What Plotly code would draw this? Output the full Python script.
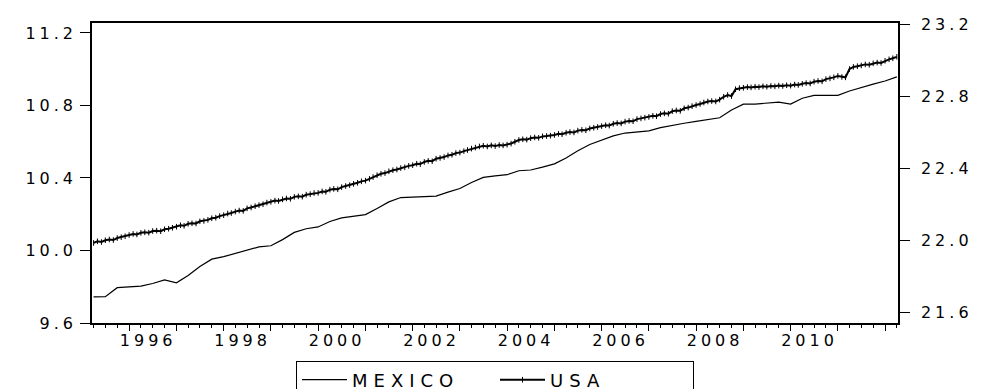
import plotly.graph_objects as go
import pandas as pd

# ---------------- data ----------------
mexico_dates = [
    "1995-04", "1995-07", "1995-10",
    "1996-01", "1996-04", "1996-07", "1996-10",
    "1997-01", "1997-04", "1997-07", "1997-10",
    "1998-01", "1998-04", "1998-07", "1998-10",
    "1999-01", "1999-04", "1999-07", "1999-10",
    "2000-01", "2000-04", "2000-07", "2000-10",
    "2001-01", "2001-04", "2001-07", "2001-10",
    "2002-01", "2002-04", "2002-07", "2002-10",
    "2003-01", "2003-04", "2003-07", "2003-10",
    "2004-01", "2004-04", "2004-07", "2004-10",
    "2005-01", "2005-04", "2005-07", "2005-10",
    "2006-01", "2006-04", "2006-07", "2006-10",
    "2007-01", "2007-04", "2007-07", "2007-10",
    "2008-01", "2008-04", "2008-07", "2008-10",
    "2009-01", "2009-04", "2009-07", "2009-10",
    "2010-01", "2010-04", "2010-07", "2010-10",
    "2011-01", "2011-04", "2011-07", "2011-10",
    "2012-01", "2012-04",
]
mexico_values = [
    9.744, 9.745, 9.795,
    9.797, 9.803, 9.818, 9.838,
    9.822, 9.862, 9.912, 9.952,
    9.966, 9.984, 10.003, 10.020,
    10.026, 10.060, 10.100, 10.120,
    10.130, 10.160, 10.180, 10.190,
    10.198, 10.232, 10.268, 10.292,
    10.296, 10.296, 10.300, 10.322,
    10.342, 10.375, 10.403, 10.412,
    10.418, 10.440, 10.444, 10.460,
    10.478, 10.510, 10.550, 10.585,
    10.610, 10.632, 10.648, 10.654,
    10.660, 10.678, 10.692, 10.702,
    10.712, 10.720, 10.732, 10.775,
    10.807, 10.808, 10.812, 10.818,
    10.808, 10.840, 10.856, 10.856,
    10.856, 10.880, 10.900, 10.918,
    10.935, 10.958,
]

usa_start = "1995-04-01"   # monthly observations, April 1995 .. April 2012
usa_values = [
    # 1995 Apr-Dec
    21.984, 21.993, 21.989, 21.999, 22.003, 22.000, 22.011, 22.016, 22.021,
    # 1996
    22.028, 22.034, 22.031, 22.040, 22.043, 22.041, 22.050, 22.052, 22.049, 22.060, 22.063, 22.068,
    # 1997
    22.074, 22.082, 22.079, 22.090, 22.093, 22.092, 22.104, 22.106, 22.112, 22.121, 22.124, 22.133,
    # 1998
    22.138, 22.147, 22.150, 22.158, 22.164, 22.162, 22.176, 22.181, 22.188, 22.194, 22.199, 22.208,
    # 1999
    22.212, 22.219, 22.217, 22.226, 22.231, 22.229, 22.240, 22.243, 22.241, 22.252, 22.255, 22.261,
    # 2000
    22.262, 22.270, 22.268, 22.280, 22.284, 22.282, 22.294, 22.300, 22.305, 22.312, 22.318, 22.326,
    # 2001
    22.330, 22.340, 22.350, 22.360, 22.368, 22.372, 22.382, 22.388, 22.392, 22.400, 22.404, 22.412,
    # 2002
    22.416, 22.424, 22.422, 22.434, 22.440, 22.438, 22.452, 22.456, 22.461, 22.470, 22.474, 22.483,
    # 2003
    22.486, 22.494, 22.500, 22.508, 22.514, 22.520, 22.524, 22.520, 22.526, 22.522, 22.528, 22.526,
    # 2004
    22.530, 22.536, 22.546, 22.556, 22.560, 22.558, 22.566, 22.570, 22.568, 22.576, 22.578, 22.580,
    # 2005
    22.584, 22.590, 22.588, 22.596, 22.600, 22.598, 22.608, 22.612, 22.610, 22.620, 22.624, 22.628,
    # 2006
    22.633, 22.638, 22.636, 22.646, 22.650, 22.648, 22.658, 22.662, 22.660, 22.672, 22.676, 22.680,
    # 2007
    22.684, 22.690, 22.688, 22.700, 22.704, 22.702, 22.716, 22.720, 22.718, 22.732, 22.736, 22.744,
    # 2008
    22.750, 22.756, 22.764, 22.770, 22.772, 22.770, 22.780, 22.796, 22.806, 22.800, 22.838, 22.844,
    # 2009
    22.846, 22.850, 22.848, 22.852, 22.850, 22.854, 22.852, 22.856, 22.854, 22.858, 22.856, 22.860,
    # 2010
    22.858, 22.864, 22.862, 22.868, 22.872, 22.870, 22.880, 22.884, 22.882, 22.894, 22.898, 22.904,
    # 2011
    22.912, 22.906, 22.904, 22.950, 22.962, 22.966, 22.970, 22.976, 22.974, 22.982, 22.986, 22.984,
    # 2012 Jan-Apr
    22.996, 23.004, 23.010, 23.018,
]

left_ticks = [9.6, 10.0, 10.4, 10.8, 11.2]
right_ticks = [21.6, 22.0, 22.4, 22.8, 23.2]
year_labels = ["1996", "1998", "2000", "2002", "2004", "2006", "2008", "2010"]
year_ticks = [str(y) for y in range(1996, 2013)]

# ---------------- build ----------------
usa_dates = pd.date_range(usa_start, periods=len(usa_values), freq="MS")

X_RANGE = ["1995-03-20", "2012-04-10"]
FONT = "DejaVu Sans"
SP = 4  # letter spacing imitating the wide EViews-style glyphs


def wide(s, sp=SP):
    return f'<span style="letter-spacing:{sp}px">{s}</span>'


fig = go.Figure()
fig.add_trace(go.Scatter(
    x=pd.to_datetime(mexico_dates), y=mexico_values, name=wide("MEXICO", 6),
    mode="lines", line=dict(color="black", width=1.2),
    xaxis="x", yaxis="y",
))
fig.add_trace(go.Scatter(
    x=usa_dates, y=usa_values, name=wide("USA", 6),
    mode="lines+markers", line=dict(color="black", width=2),
    marker=dict(symbol="line-ns", size=4, color="black",
                line=dict(width=1, color="black")),
    xaxis="x2", yaxis="y2",
))

# the page body has an 8px margin, so margins are set to place the plot
# box at the reference position (left 92, right 898, top 23, bottom 323)
fig.update_layout(
    width=984, height=389,
    margin=dict(l=84, r=94, t=15, b=74, autoexpand=False),
    paper_bgcolor="white", plot_bgcolor="white",
    font=dict(family=FONT, size=16, color="black"),
    showlegend=True,
    legend=dict(
        orientation="h", x=0.5, xanchor="center", y=-0.125, yanchor="top",
        bordercolor="black", borderwidth=1, bgcolor="white",
        font=dict(family=FONT, size=18, color="black"),
        itemwidth=45, tracegroupgap=0,
        entrywidth=138, entrywidthmode="pixels",
    ),
    xaxis=dict(
        type="date", range=X_RANGE, showgrid=False, zeroline=False,
        showline=True, linecolor="black", linewidth=1.5, mirror=True,
        tickmode="array", tickvals=[f"{y}-01-01" for y in year_ticks],
        showticklabels=False, ticks="outside", ticklen=6, tickwidth=1.3,
        tickcolor="black",
        minor=dict(dtick="M3", tick0="1996-01-01", ticks="outside",
                   ticklen=3, tickwidth=1.1, tickcolor="black", showgrid=False),
    ),
    xaxis2=dict(
        type="date", range=X_RANGE, overlaying="x", anchor="y", side="bottom",
        showgrid=False, zeroline=False, showline=False,
        tickmode="array", tickvals=[f"{y}-05-27" for y in year_labels],
        ticktext=[wide(y) for y in year_labels], ticks="",
        ticklabelstandoff=6,
        tickfont=dict(family=FONT, size=16, color="black"),
    ),
    yaxis=dict(
        range=[9.6, 11.255], showgrid=False, zeroline=False,
        showline=True, linecolor="black", linewidth=1.5,
        tickmode="array", tickvals=left_ticks,
        ticktext=[wide(f"{v:.1f}") for v in left_ticks],
        ticks="outside", ticklen=10, tickwidth=1.3, tickcolor="black",
        ticklabelstandoff=0,
        tickfont=dict(family=FONT, size=16, color="black"),
    ),
    yaxis2=dict(
        range=[21.539, 23.206], overlaying="y", side="right", anchor="x2",
        showgrid=False, zeroline=False,
        showline=True, linecolor="black", linewidth=1.5,
        tickmode="array", tickvals=right_ticks,
        ticktext=[wide(f"{v:.1f}") for v in right_ticks],
        ticks="outside", ticklen=10, tickwidth=1.3, tickcolor="black",
        ticklabelstandoff=8,
        tickfont=dict(family=FONT, size=16, color="black"),
    ),
)

fig.write_html("out.html")
